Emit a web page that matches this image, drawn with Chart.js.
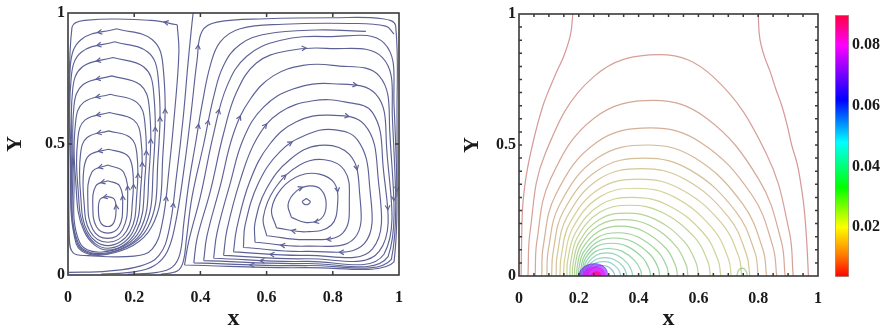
<!DOCTYPE html>
<html>
<head>
<meta charset="utf-8">
<script src="https://cdn.jsdelivr.net/npm/chart.js@4.4.1/dist/chart.umd.min.js"></script>
<style>
  html, body { margin: 0; padding: 0; background: #fff; }
  body { width: 881px; height: 333px; position: relative; overflow: hidden; }
  canvas { position: absolute; top: 0; }
  #flow { left: 0; }
  #conc { left: 440px; }
  #cbar { left: 820px; }
</style>
</head>
<body>
<canvas id="flow" width="440" height="333"></canvas>
<canvas id="conc" width="400" height="333"></canvas>
<canvas id="cbar" width="61" height="333"></canvas>
<script>
// ---- streamlines (x, Y) ----
// left cell, counter-clockwise, inner to outer
const leftLoops = [
  [[.119,.30],[.097,.289],[.092,.243],[.099,.199],[.12,.185],[.138,.199],[.145,.243],[.14,.289]],
  [[.12,.36],[.084,.34],[.075,.26],[.086,.184],[.12,.16],[.154,.184],[.165,.26],[.156,.34]],
  [[.12,.42],[.072,.392],[.06,.28],[.075,.174],[.12,.14],[.165,.174],[.18,.28],[.168,.392]],
  [[.122,.48],[.065,.458],[.048,.406],[.048,.285],[.066,.168],[.12,.125],[.177,.168],[.195,.285],[.195,.406],[.178,.458]],
  [[.123,.55],[.058,.525],[.038,.464],[.038,.309],[.059,.165],[.12,.112],[.187,.165],[.208,.309],[.208,.464],[.188,.525]],
  [[.125,.62],[.052,.592],[.03,.524],[.03,.335],[.054,.164],[.12,.102],[.196,.164],[.22,.335],[.22,.524],[.198,.592]],
  [[.128,.69],[.047,.659],[.023,.584],[.023,.363],[.049,.166],[.12,.095],[.206,.166],[.232,.363],[.232,.584],[.208,.659]],
  [[.132,.76],[.045,.726],[.018,.645],[.018,.392],[.035,.125],[.12,.09],[.217,.17],[.245,.392],[.245,.645],[.218,.726]],
  [[.136,.83],[.043,.794],[.014,.707],[.014,.42],[.031,.122],[.12,.085],[.228,.174],[.258,.42],[.258,.707],[.229,.794]],
  [[.141,.89],[.041,.851],[.01,.758],[.01,.446],[.028,.12],[.12,.082],[.24,.179],[.272,.446],[.272,.758],[.241,.851]],
  [[.147,.94],[.04,.899],[.007,.799],[.007,.466],[.025,.118],[.12,.079],[.252,.182],[.287,.466],[.287,.799],[.254,.899]],
  [[.33,.955],[.25,.972],[.05,.972],[.012,.945],[.004,.6],[.004,.15],[.015,.085],[.06,.074],[.2,.072],[.255,.1],[.285,.2],[.305,.4],[.322,.62],[.335,.85]]
];
// right cell, clockwise, inner to outer
const rightRings = [
  [[.72,.292],[.732,.28],[.72,.268],[.708,.28]],
  [[.675,.22],[.665,.27],[.69,.32],[.73,.34],[.765,.325],[.78,.27],[.765,.215],[.72,.20]],
  [[.63,.18],[.615,.25],[.645,.33],[.70,.38],[.76,.385],[.805,.35],[.815,.28],[.795,.19],[.72,.165]],
  [[.60,.15],[.59,.22],[.625,.33],[.70,.42],[.775,.44],[.835,.40],[.85,.30],[.83,.16],[.72,.135]],
  [[.565,.125],[.565,.20],[.60,.33],[.67,.44],[.76,.495],[.85,.46],[.88,.33],[.865,.14],[.72,.11]],
  [[.53,.105],[.535,.19],[.575,.35],[.64,.47],[.72,.535],[.80,.555],[.875,.515],[.91,.36],[.895,.12],[.72,.09]],
  [[.50,.088],[.51,.18],[.55,.36],[.61,.50],[.69,.585],[.79,.61],[.895,.575],[.935,.40],[.92,.10],[.72,.075]],
  [[.47,.075],[.48,.17],[.52,.36],[.57,.52],[.64,.62],[.74,.665],[.84,.66],[.92,.62],[.95,.45],[.94,.09],[.72,.062]],
  [[.44,.064],[.45,.16],[.49,.35],[.53,.52],[.59,.64],[.68,.71],[.80,.73],[.93,.69],[.962,.50],[.955,.08],[.72,.052]],
  [[.41,.055],[.42,.15],[.46,.34],[.50,.54],[.55,.67],[.62,.76],[.71,.80],[.80,.80],[.94,.76],[.972,.55],[.967,.07],[.72,.044]],
  [[.38,.046],[.39,.14],[.43,.32],[.47,.54],[.51,.70],[.57,.81],[.66,.855],[.78,.865],[.95,.83],[.98,.60],[.977,.06],[.72,.036]],
  [[.352,.038],[.365,.13],[.40,.30],[.44,.54],[.48,.72],[.54,.835],[.64,.895],[.78,.91],[.955,.885],[.985,.65],[.985,.05],[.72,.028]]
];
// open lines rising through the gap between the two cells
const bandLines = [
  [[.002,.01],[.12,.015],[.22,.035],[.275,.075],[.305,.17],[.328,.38],[.348,.6],[.362,.8],[.372,.93],[.378,1.0]],
  [[.1,.004],[.2,.012],[.26,.035],[.3,.09],[.325,.2],[.35,.4],[.372,.62],[.39,.82],[.405,.93],[.45,.965],[.6,.978],[.8,.982],[.95,.978],[.99,.95],[.994,.6],[.994,.3]],
  [[.18,.003],[.27,.01],[.315,.03],[.338,.08],[.35,.2],[.365,.35],[.385,.5],[.405,.65],[.43,.8],[.46,.89],[.52,.94],[.65,.957],[.85,.96],[.96,.95],[.985,.92]],
  [[.28,.003],[.33,.015],[.348,.05],[.358,.14],[.375,.3],[.41,.5],[.44,.68],[.47,.8],[.52,.88],[.6,.92],[.75,.935],[.9,.93]]
];

// ---- concentration contours (x, Y) ----
const contourLevels = [0.004, 0.004, 0.006, 0.008, 0.010, 0.012, 0.014, 0.016, 0.018, 0.020, 0.022,
  0.024, 0.026, 0.028, 0.030, 0.032, 0.034, 0.036, 0.038, 0.041, 0.044, 0.048, 0.052, 0.030];
const contourLines = [
  [[.18,1.0],[.172,.92],[.15,.84],[.126,.78],[.1,.71],[.08,.65],[.06,.57],[.045,.5],[.03,.42],[.02,.35],[.012,.26],[.009,.15],[.007,0]],
  [[.80,1.0],[.805,.91],[.82,.84],[.84,.78],[.86,.71],[.879,.65],[.898,.57],[.912,.5],[.93,.43],[.94,.37],[.953,.265],[.962,.137],[.968,0]],
  [[.03,0],[.037,.169],[.087,.465],[.25,.761],[.47,.845],[.649,.761],[.828,.465],[.904,.169],[.917,0]],
  [[.054,0],[.06,.134],[.105,.369],[.252,.603],[.45,.67],[.626,.603],[.802,.369],[.877,.134],[.89,0]],
  [[.076,0],[.081,.113],[.123,.311],[.258,.509],[.44,.565],[.609,.509],[.778,.311],[.849,.113],[.862,0]],
  [[.093,0],[.098,.10],[.137,.275],[.262,.45],[.43,.50],[.589,.45],[.748,.275],[.816,.10],[.828,0]],
  [[.109,0],[.114,.09],[.149,.248],[.265,.405],[.42,.45],[.572,.405],[.724,.248],[.789,.09],[.80,0]],
  [[.124,0],[.128,.082],[.161,.226],[.267,.369],[.41,.41],[.555,.369],[.70,.226],[.761,.082],[.772,0]],
  [[.137,0],[.141,.074],[.171,.204],[.269,.333],[.40,.37],[.538,.333],[.676,.204],[.735,.074],[.745,0]],
  [[.149,0],[.153,.067],[.18,.184],[.27,.302],[.39,.335],[.518,.302],[.646,.184],[.70,.067],[.71,0]],
  [[.16,0],[.163,.06],[.189,.165],[.27,.27],[.38,.30],[.498,.27],[.616,.165],[.666,.06],[.675,0]],
  [[.17,0],[.173,.054],[.196,.149],[.27,.243],[.37,.27],[.478,.243],[.586,.149],[.632,.054],[.64,0]],
  [[.178,0],[.181,.048],[.202,.132],[.269,.216],[.36,.24],[.456,.216],[.552,.132],[.593,.048],[.60,0]],
  [[.186,0],[.188,.043],[.207,.118],[.268,.194],[.35,.215],[.436,.194],[.522,.118],[.559,.043],[.565,0]],
  [[.193,0],[.195,.038],[.212,.105],[.267,.171],[.34,.19],[.416,.171],[.492,.105],[.524,.038],[.53,0]],
  [[.199,0],[.201,.033],[.216,.091],[.265,.149],[.33,.165],[.398,.149],[.466,.091],[.495,.033],[.50,0]],
  [[.205,0],[.207,.029],[.22,.08],[.263,.131],[.32,.145],[.38,.131],[.44,.08],[.466,.029],[.47,0]],
  [[.21,0],[.212,.025],[.223,.069],[.26,.113],[.31,.125],[.362,.113],[.414,.069],[.436,.025],[.44,0]],
  [[.215,0],[.216,.021],[.226,.058],[.258,.095],[.30,.105],[.344,.095],[.388,.058],[.407,.021],[.41,0]],
  [[.22,0],[.221,.018],[.23,.048],[.258,.079],[.295,.088],[.329,.079],[.363,.048],[.377,.018],[.38,0]],
  [[.224,0],[.225,.014],[.233,.039],[.257,.063],[.29,.07],[.318,.063],[.346,.039],[.358,.014],[.36,0]],
  [[.228,0],[.229,.011],[.235,.03],[.257,.05],[.285,.055],[.307,.05],[.329,.03],[.338,.011],[.34,0]],
  [[.232,0],[.233,.008],[.238,.022],[.256,.036],[.28,.04],[.296,.036],[.312,.022],[.319,.008],[.32,0]],
  [[.728,0],[.735,.022],[.748,.03],[.76,.018],[.763,0]]
];
// filled core at the source on the floor
const blobLevels = [0.070, 0.080, 0.088];
const blobShapes = [
  [[.2,0],[.205,.02],[.225,.04],[.25,.047],[.275,.042],[.292,.025],[.297,0]],
  [[.215,0],[.22,.018],[.24,.032],[.258,.034],[.275,.028],[.285,.015],[.288,0]],
  [[.24,0],[.245,.01],[.26,.016],[.272,.01],[.275,0]]
];

// ---- colour bar ----
const cbMin = 0.0035, cbMax = 0.09;
const cbTicks = [0.02, 0.04, 0.06, 0.08];
const cmapValues = [0.0035, 0.011, 0.02, 0.033, 0.048, 0.062, 0.071, 0.08, 0.09];
const cmapColors = ['#ff0000', '#ff8000', '#ffff00', '#00ff00', '#00ffff', '#0000ff', '#8000ff', '#ff00ff', '#ff0040'];

const serif = "'Liberation Serif', 'Times New Roman', serif";
const ink = '#1a1a1a';
const streamColor = '#5d6296';

function hexRgb(h) {
  const n = parseInt(h.slice(1), 16);
  return [(n >> 16) & 255, (n >> 8) & 255, n & 255];
}
function cmap(v) {
  const last = cmapValues.length - 2;
  for (let i = 0; i <= last; i++) {
    if (v <= cmapValues[i + 1] || i === last) {
      const t = Math.max(0, Math.min(1, (v - cmapValues[i]) / (cmapValues[i + 1] - cmapValues[i])));
      const a = hexRgb(cmapColors[i]), b = hexRgb(cmapColors[i + 1]);
      return a.map((c, k) => Math.round(c + (b[k] - c) * t));
    }
  }
}
// contour lines come out muted, a bit greyed
function contourInk(v) {
  const c = cmap(v), g = [120, 110, 120];
  return 'rgba(' + c.map((k, i) => Math.round(0.45 * k + 0.55 * g[i])).join(',') + ',0.55)';
}

const toXY = pts => pts.map(p => ({ x: p[0], y: p[1] }));
const closed = pts => pts.concat([pts[0]]);
const tickText = v => String(+Number(v).toFixed(2));

function streamSet(pts, arrows) {
  return { data: toXY(pts), borderColor: streamColor, borderWidth: 1.15, pointRadius: 0,
           tension: 0.4, fill: false, arrows: arrows };
}

// small open chevrons along streamlines, placed on the drawn bezier
const arrowPlugin = {
  id: 'arrows',
  afterDatasetsDraw(chart) {
    const ctx = chart.ctx, a = chart.chartArea;
    ctx.save();
    ctx.beginPath(); ctx.rect(a.left, a.top, a.width, a.height); ctx.clip();
    chart.data.datasets.forEach((ds, di) => {
      if (!ds.arrows) return;
      const pts = chart.getDatasetMeta(di).data;
      const nSeg = pts.length - 1;
      ds.arrows.forEach(f => {
        const i = Math.min(nSeg - 1, Math.round(f * nSeg));
        const p = pts[i], q = pts[i + 1];
        const c1x = p.cp2x ?? p.x, c1y = p.cp2y ?? p.y, c2x = q.cp1x ?? q.x, c2y = q.cp1y ?? q.y;
        const mx = (p.x + 3 * c1x + 3 * c2x + q.x) / 8, my = (p.y + 3 * c1y + 3 * c2y + q.y) / 8;
        const ang = Math.atan2(q.y + c2y - c1y - p.y, q.x + c2x - c1x - p.x);
        ctx.strokeStyle = ds.borderColor;
        ctx.lineWidth = 1.2;
        ctx.beginPath();
        ctx.moveTo(mx - 5 * Math.cos(ang - 0.5), my - 5 * Math.sin(ang - 0.5));
        ctx.lineTo(mx, my);
        ctx.lineTo(mx - 5 * Math.cos(ang + 0.5), my - 5 * Math.sin(ang + 0.5));
        ctx.stroke();
      });
    });
    ctx.restore();
  }
};

// box around the plot with inward ticks on all four sides
const framePlugin = {
  id: 'frame',
  afterDatasetsDraw(chart, args, opts) {
    const { ctx, chartArea: a, scales: { x, y } } = chart;
    ctx.save();
    ctx.strokeStyle = '#3a3a3a';
    ctx.lineWidth = 1.6;
    ctx.strokeRect(a.left, a.top, a.width, a.height);
    ctx.lineWidth = 1.5;
    ctx.beginPath();
    const nx = Math.round(1 / opts.xStep), ny = Math.round(1 / opts.yStep);
    for (let k = 1; k < nx; k++) {
      const px = x.getPixelForValue(k * opts.xStep);
      ctx.moveTo(px, a.bottom); ctx.lineTo(px, a.bottom - opts.len);
      ctx.moveTo(px, a.top); ctx.lineTo(px, a.top + opts.len);
    }
    for (let k = 1; k < ny; k++) {
      const py = y.getPixelForValue(k * opts.yStep);
      ctx.moveTo(a.left, py); ctx.lineTo(a.left + opts.len, py);
      ctx.moveTo(a.right, py); ctx.lineTo(a.right - opts.len, py);
    }
    ctx.stroke();
    ctx.restore();
  }
};

function axes(yWidth, xHeight) {
  const tickFont = { family: serif, size: 16, weight: 'bold' };
  return {
    x: {
      type: 'linear', min: 0, max: 1,
      grid: { display: false, drawTicks: false }, border: { display: false },
      ticks: { stepSize: 0.2, color: ink, font: tickFont, padding: 13, maxRotation: 0, callback: tickText },
      title: { display: true, text: 'x', color: ink, font: { family: serif, size: 24, weight: 'bold' }, padding: 0 },
      afterFit: s => { s.height = xHeight; }
    },
    y: {
      type: 'linear', min: 0, max: 1,
      grid: { display: false, drawTicks: false }, border: { display: false },
      ticks: { stepSize: 0.5, color: ink, font: tickFont, padding: 3, callback: tickText },
      title: { display: true, text: 'Y', color: ink, font: { family: serif, size: 22, weight: 'bold' }, padding: { top: 2, bottom: 0 } },
      afterFit: s => { s.width = yWidth; }
    }
  };
}

const common = {
  responsive: false, animation: false, events: [], devicePixelRatio: 1
};

// arrow spots on the right-cell rings alternate so they don't stack up
const ringArrows = i => (i === 0 ? null : (i % 2 ? [0.25, 0.75] : [0.5, 0.9]));

// streamlines
new Chart(document.getElementById('flow'), {
  type: 'line',
  data: {
    datasets: [
      ...leftLoops.map(l => streamSet(closed(l), [0, 0.7])),
      ...rightRings.map((r, i) => streamSet(closed(r), ringArrows(i))),
      ...bandLines.map(b => streamSet(b, [0.45]))
    ]
  },
  options: {
    ...common,
    layout: { padding: { left: 0, right: 41, top: 13, bottom: 0 } },
    scales: axes(68, 58),
    plugins: { legend: { display: false }, tooltip: { enabled: false },
               frame: { xStep: 0.2, yStep: 0.5, len: 4 } }
  },
  plugins: [arrowPlugin, framePlugin]
});

// concentration contours; the filled core goes first so it sits on top
new Chart(document.getElementById('conc'), {
  type: 'line',
  data: {
    datasets: [
      ...blobShapes.slice().reverse().map((s, i) => {
        const c = cmap(blobLevels[blobLevels.length - 1 - i]);
        return { data: toXY(s), borderColor: 'rgba(' + c.join(',') + ',0.5)', borderWidth: 1,
                 backgroundColor: 'rgba(' + c.join(',') + ',0.55)', fill: 'origin',
                 pointRadius: 0, tension: 0.4 };
      }),
      ...contourLines.map((l, i) => ({
        data: toXY(l), borderColor: contourInk(contourLevels[i]), borderWidth: 1.2,
        pointRadius: 0, tension: 0.4, fill: false
      }))
    ]
  },
  options: {
    ...common,
    layout: { padding: { left: 17, right: 22, top: 14, bottom: 0 } },
    scales: axes(62, 57),
    plugins: { legend: { display: false }, tooltip: { enabled: false },
               frame: { xStep: 0.05, yStep: 0.05, len: 3 } }
  },
  plugins: [framePlugin]
});

// colour bar: one floating bar spanning the level range, painted with the colour map
new Chart(document.getElementById('cbar'), {
  type: 'bar',
  data: {
    labels: [''],
    datasets: [{
      data: [[cbMin, cbMax]],
      backgroundColor: ctx => {
        const ch = ctx.chart, a = ch.chartArea;
        if (!a) return null;
        const g = ch.ctx.createLinearGradient(0, a.bottom, 0, a.top);
        cmapValues.forEach((v, i) => g.addColorStop((v - cbMin) / (cbMax - cbMin), cmapColors[i]));
        return g;
      },
      borderColor: '#9a9a9a', borderWidth: 1, borderSkipped: false,
      categoryPercentage: 1, barPercentage: 1
    }]
  },
  options: {
    ...common,
    layout: { padding: { left: 15, right: 0, top: 15, bottom: 56 } },
    scales: {
      x: { display: false },
      y: {
        position: 'right', min: cbMin, max: cbMax,
        grid: { display: false, drawTicks: false }, border: { display: false },
        afterBuildTicks: s => { s.ticks = cbTicks.map(v => ({ value: v })); },
        ticks: { color: ink, font: { family: serif, size: 16, weight: 'bold' }, padding: 3,
                 callback: v => v.toFixed(2) },
        afterFit: s => { s.width = 32; }
      }
    },
    plugins: { legend: { display: false }, tooltip: { enabled: false } }
  }
});
</script>
</body>
</html>
